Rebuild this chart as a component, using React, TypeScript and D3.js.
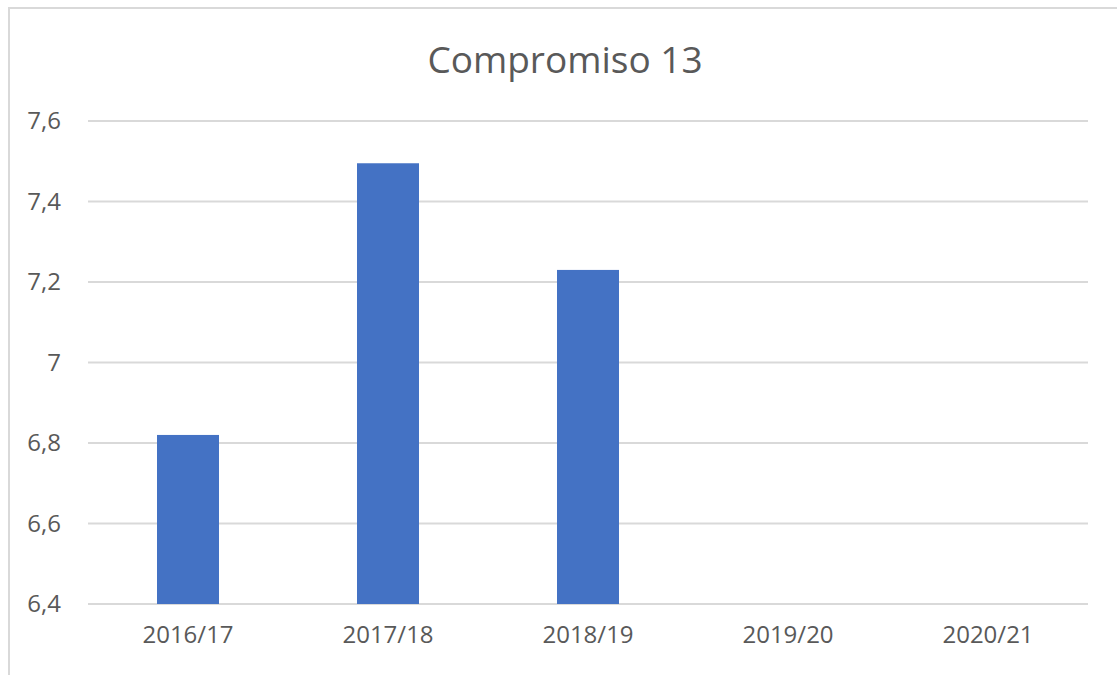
import { useEffect, useRef } from "react";
import * as d3 from "d3";

const categories = ["2016/17", "2017/18", "2018/19", "2019/20", "2020/21"];
const values: (number | null)[] = [6.82, 7.495, 7.23, null, null];
const yTicks = [6.4, 6.6, 6.8, 7, 7.2, 7.4, 7.6];
const title = "Compromiso 13";

const WIDTH = 1117;
const HEIGHT = 675;
const MARGIN = { top: 121, right: 29, bottom: 71, left: 88 };
const TEXT = "#595959";
const GRID = "#d9d9d9";
const BAR = "#4472c4";
const FONT = "'Open Sans', sans-serif";

export default function App() {
  const svgRef = useRef<SVGSVGElement>(null);

  useEffect(() => {
    if (!svgRef.current) return;
    const svg = d3.select(svgRef.current);
    svg.selectAll("*").remove();

    const innerWidth = WIDTH - MARGIN.left - MARGIN.right;
    const innerHeight = HEIGHT - MARGIN.top - MARGIN.bottom;

    svg.append("rect").attr("width", WIDTH).attr("height", HEIGHT).attr("fill", "#fff");

    // chart frame (only top and left edges are visible)
    svg
      .append("path")
      .attr("d", `M9,${HEIGHT} V8 H${WIDTH}`)
      .attr("fill", "none")
      .attr("stroke", GRID)
      .attr("stroke-width", 2);

    const g = svg
      .append("g")
      .attr("transform", `translate(${MARGIN.left},${MARGIN.top})`);

    const x = d3
      .scaleBand()
      .domain(categories)
      .range([0, innerWidth])
      .paddingInner(0.69)
      .paddingOuter(0.345);

    const y = d3.scaleLinear().domain([6.4, 7.6]).range([innerHeight, 0]);

    // Grid lines
    g.append("g")
      .selectAll("line")
      .data(yTicks)
      .join("line")
      .attr("x1", 0)
      .attr("x2", innerWidth)
      .attr("y1", (d) => y(d))
      .attr("y2", (d) => y(d))
      .attr("stroke", GRID)
      .attr("stroke-width", 2);

    // Bars
    g.append("g")
      .selectAll("rect")
      .data(categories.map((c, i) => ({ c, v: values[i] })).filter((d) => d.v != null))
      .join("rect")
      .attr("x", (d) => x(d.c) ?? 0)
      .attr("width", x.bandwidth())
      .attr("y", (d) => y(d.v as number))
      .attr("height", (d) => innerHeight - y(d.v as number))
      .attr("fill", BAR);

    // Y axis
    g.append("g")
      .call(
        d3
          .axisLeft(y)
          .tickValues(yTicks)
          .tickSize(0)
          .tickPadding(27)
          .tickFormat((d) => String(d).replace(".", ","))
      )
      .call((sel) => sel.select(".domain").remove())
      .call((sel) =>
        sel
          .selectAll(".tick text")
          .attr("fill", TEXT)
          .attr("font-size", "24px")
          .attr("font-family", FONT)
      );

    // X axis
    g.append("g")
      .attr("transform", `translate(0,${innerHeight})`)
      .call(d3.axisBottom(x).tickSize(0).tickPadding(22))
      .call((sel) => sel.select(".domain").remove())
      .call((sel) =>
        sel
          .selectAll(".tick text")
          .attr("fill", TEXT)
          .attr("font-size", "24px")
          .attr("font-family", FONT)
      );

    // Title
    svg
      .append("text")
      .attr("x", 565)
      .attr("y", 73)
      .attr("text-anchor", "middle")
      .attr("fill", TEXT)
      .attr("font-size", "37px")
      .attr("font-family", FONT)
      .text(title);
  }, []);

  return (
    <svg
      ref={svgRef}
      width={WIDTH}
      height={HEIGHT}
      style={{ position: "absolute", left: 0, top: 0 }}
    />
  );
}
